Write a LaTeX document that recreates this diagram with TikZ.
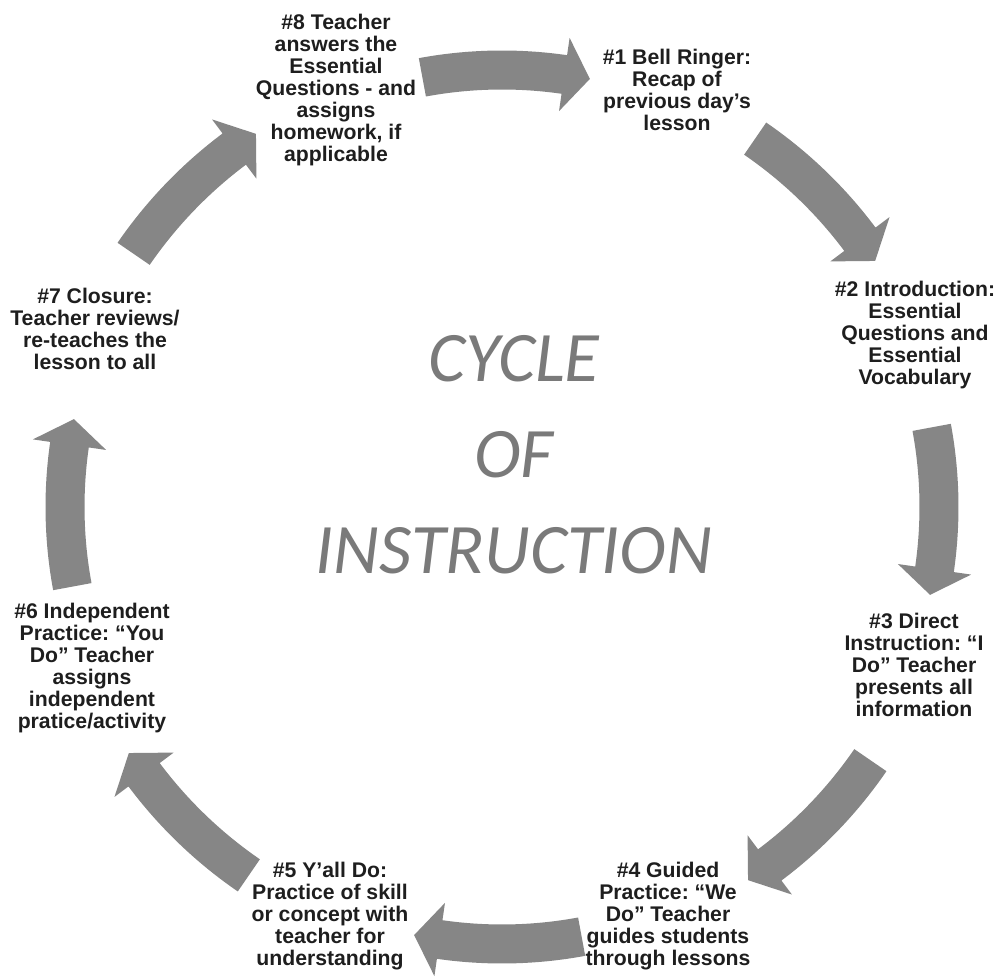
\documentclass[tikz,border=0pt]{standalone}
\usepackage{fontspec}
\setmainfont{Liberation Sans}
\newfontfamily\titlefont{Carlito}
\frenchspacing
\definecolor{arrowgray}{RGB}{134,134,134}
\definecolor{labelink}{RGB}{30,30,30}
\definecolor{titlegray}{RGB}{122,122,122}
\tikzset{
  stagelabel/.style={align=center, text=labelink, inner sep=0pt,
    font=\bfseries\fontsize{21.2}{22}\selectfont},
  titlelabel/.style={align=center, text=titlegray, inner sep=0pt,
    font=\titlefont\itshape\fontsize{71}{96}\selectfont},
  arrowfill/.style={fill=arrowgray}
}
% #1 mid angle, #2 radius (pt, number)
\newcommand{\cycarrow}[2]{%
  \pgfmathsetmacro{\rout}{#2+19.5}%
  \pgfmathsetmacro{\rin}{#2-19.5}%
  \pgfmathsetmacro{\rhout}{#2+37}%
  \pgfmathsetmacro{\rhin}{#2-37}%
  \pgfmathsetmacro{\atail}{#1+10.5}%
  \pgfmathsetmacro{\abase}{#1-8.2}%
  \pgfmathsetmacro{\atip}{#1-11.6}%
  \fill[arrowfill] (\atail:\rout pt) arc[start angle=\atail, end angle=\abase, radius=\rout pt]
    -- (\abase:\rhout pt) -- (\atip:#2pt) -- (\abase:\rhin pt) -- (\abase:\rin pt)
    arc[start angle=\abase, end angle=\atail, radius=\rin pt] -- cycle;%
}
\begin{document}
\begin{tikzpicture}[x=1pt, y=1pt]
\fill[white] (0,0) rectangle (1002,978);
\useasboundingbox (0,0) rectangle (1002,978);

% curved block arrows around the cycle
\begin{scope}[shift={(502,471)}]
  \cycarrow{90}{437}
  \cycarrow{45}{447}
  \cycarrow{0}{437}
  \cycarrow{-45}{447}
  \cycarrow{-90}{437}
  \cycarrow{-135}{447}
  \cycarrow{180}{437}
  \cycarrow{135}{447}
\end{scope}

% stage labels
\node[stagelabel] (s8) at (336,888) {\#8 Teacher\\answers the\\Essential\\Questions - and\\assigns\\homework, if\\applicable};
\node[stagelabel] (s1) at (677,888) {\#1 Bell Ringer:\\Recap of\\previous day’s\\lesson};
\node[stagelabel] (s2) at (915,643) {\#2 Introduction:\\Essential\\Questions and\\Essential\\Vocabulary};
\node[stagelabel] (s3) at (914,313) {\#3 Direct\\Instruction: “I\\Do” Teacher\\presents all\\information};
\node[stagelabel] (s4) at (668,62) {\#4 Guided\\Practice: “We\\Do” Teacher\\guides students\\through lessons};
\node[stagelabel] (s5) at (330,62) {\#5 Y’all Do:\\Practice of skill\\or concept with\\teacher for\\understanding};
\node[stagelabel] (s6) at (92,310) {\#6 Independent\\Practice: “You\\Do” Teacher\\assigns\\independent\\pratice/activity};
\node[stagelabel] (s7) at (95,649) {\#7 Closure:\\Teacher reviews/\\re-teaches the\\lesson to all};

% title
\node[titlelabel] (title) at (514,523) {CYCLE\\OF\\INSTRUCTION};
\end{tikzpicture}
\end{document}
